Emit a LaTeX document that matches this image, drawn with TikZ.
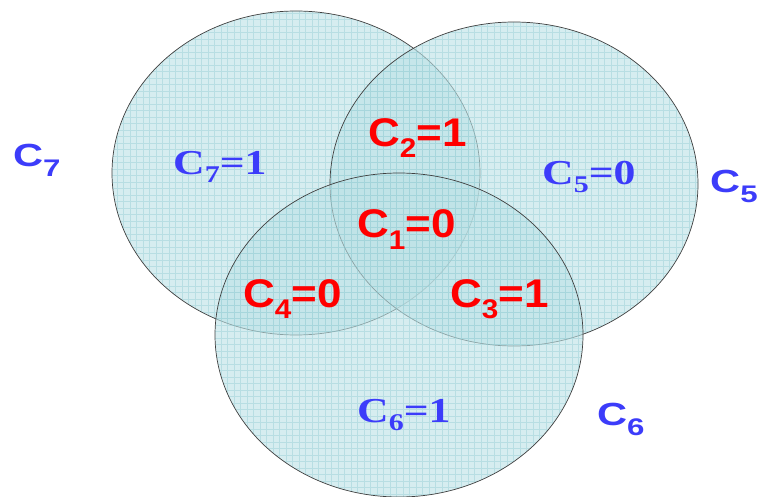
\documentclass[tikz,border=0pt]{standalone}
\usepackage{fontspec}
\setmainfont{Liberation Serif}
\newfontfamily\sansf{Liberation Sans}
\definecolor{lblblue}{RGB}{60,60,250}
\definecolor{lblred}{RGB}{255,0,0}
\definecolor{vfill}{RGB}{188,226,230}
\definecolor{vgrid}{RGB}{140,200,208}
\newcommand{\redlbl}[3]{\scalebox{1.1}[1]{\sansf\bfseries\fontsize{40}{40}\selectfont #1\raisebox{-11pt}{\fontsize{27}{27}\selectfont #2}#3}}
\newcommand{\bluelbl}[3]{\scalebox{1.25}[1]{\bfseries\fontsize{35}{35}\selectfont #1\raisebox{-8pt}{\fontsize{24}{24}\selectfont #2}#3}}
\newcommand{\outlbl}[2]{\scalebox{1.3}[1]{\sansf\bfseries\fontsize{32}{32}\selectfont #1\raisebox{-10pt}{\fontsize{24}{24}\selectfont #2}}}
\begin{document}
\begin{tikzpicture}[x=1pt,y=-1pt,
  lbl/.style={inner sep=0pt, anchor=base west},
  vset/.style={black!75, line width=0.7pt}]
\useasboundingbox (0,0) rectangle (763,497);
\fill[white] (0,0) rectangle (763,497);
\foreach \cx/\cy in {296/173, 514/184, 399/335} {
  \begin{scope}
    \clip (\cx,\cy) ellipse [x radius=184, y radius=162];
    \fill[vfill, opacity=0.6] (0,0) rectangle (763,497);
    \draw[vgrid, line width=0.35pt, opacity=0.4, step=6.5pt] (0,0) grid (763,497);
  \end{scope}
  \draw[vset] (\cx,\cy) ellipse [x radius=184, y radius=162];
}
\node[lbl, text=lblblue] (o7) at (13,167) {\outlbl{C}{7}};
\node[lbl, text=lblblue] (o5) at (710,193) {\outlbl{C}{5}};
\node[lbl, text=lblblue] (o6) at (597,425) {\outlbl{C}{6}};
\node[lbl, text=lblblue] (c7) at (173,175) {\bluelbl{C}{7}{=1}};
\node[lbl, text=lblblue] (c5) at (542,185) {\bluelbl{C}{5}{=0}};
\node[lbl, text=lblblue] (c6) at (357,422) {\bluelbl{C}{6}{=1}};
\node[lbl, text=lblred] (c2) at (368,147) {\redlbl{C}{2}{=1}};
\node[lbl, text=lblred] (c1) at (357,238) {\redlbl{C}{1}{=0}};
\node[lbl, text=lblred] (c4) at (243,307) {\redlbl{C}{4}{=0}};
\node[lbl, text=lblred] (c3) at (450,307) {\redlbl{C}{3}{=1}};
\end{tikzpicture}
\end{document}
